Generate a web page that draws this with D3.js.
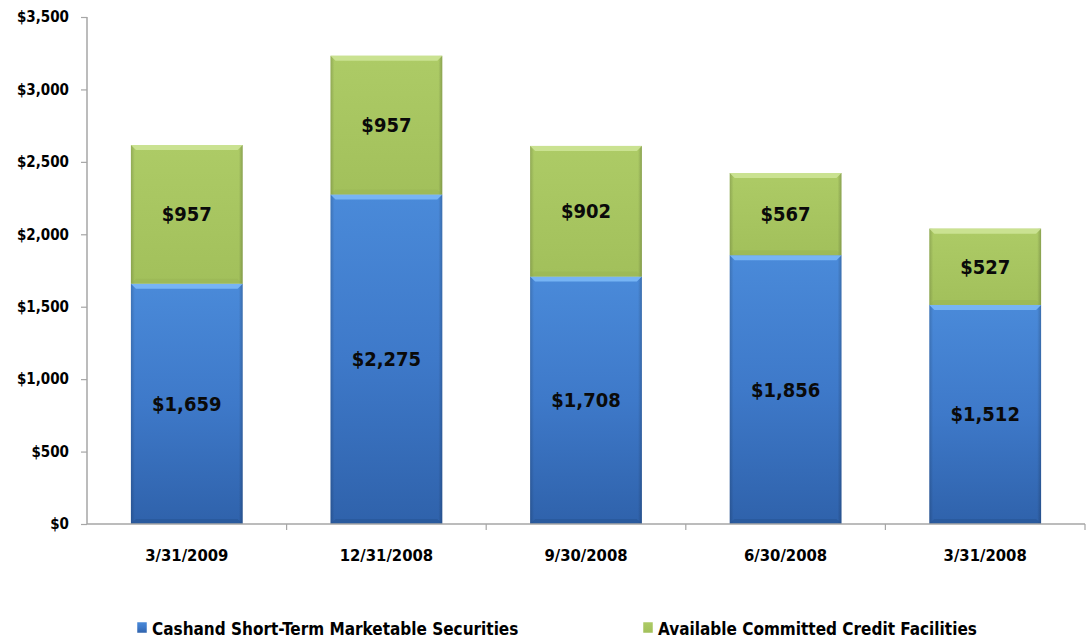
<!DOCTYPE html>
<html>
<head>
<meta charset="utf-8">
<script src="https://cdn.jsdelivr.net/npm/d3@7"></script>
<style>
  html, body { margin: 0; padding: 0; background: #fff; }
  svg { display: block; }
  text { font-family: "DejaVu Sans Condensed", "DejaVu Sans", sans-serif; font-weight: bold; fill: #000; }
</style>
</head>
<body>
<svg id="chart" width="1090" height="644"></svg>
<script>
// Liquidity by quarter end ($ millions)
const categories = ["3/31/2009", "12/31/2008", "9/30/2008", "6/30/2008", "3/31/2008"];
const cashValues = [1659, 2275, 1708, 1856, 1512];
const creditValues = [957, 957, 902, 567, 527];
const seriesNames = ["Cashand Short-Term  Marketable Securities", "Available Committed Credit Facilities"];
const yTicks = [0, 500, 1000, 1500, 2000, 2500, 3000, 3500];

const svg = d3.select("#chart");
const plotLeft = 87, plotRight = 1085, plotTop = 17, plotBottom = 524;

const x = d3.scaleBand().domain(categories).range([plotLeft, plotRight]).paddingInner(0.44).paddingOuter(0.22);
const y = d3.scaleLinear().domain([0, 3500]).range([plotBottom, plotTop]);
const fmt = v => "$" + d3.format(",")(v);

// gradients for the bevelled bars
const defs = svg.append("defs");
function vGrad(id, stops) {
  const g = defs.append("linearGradient").attr("id", id).attr("x1", 0).attr("y1", 0).attr("x2", 0).attr("y2", 1);
  stops.forEach(s => g.append("stop").attr("offset", s[0]).attr("stop-color", s[1]));
}
function hGrad(id, stops) {
  const g = defs.append("linearGradient").attr("id", id).attr("x1", 0).attr("y1", 0).attr("x2", 1).attr("y2", 0);
  stops.forEach(s => g.append("stop").attr("offset", s[0]).attr("stop-color", s[1]).attr("stop-opacity", s[2]));
}
vGrad("blueFill", [[0, "#4a8ad9"], [0.5, "#3e79c9"], [1, "#2f62ab"]]);
vGrad("greenFill", [[0, "#adcb66"], [1, "#a2c05b"]]);
hGrad("edgeShade", [[0, "#000", 0.16], [0.035, "#000", 0.0], [0.965, "#000", 0.0], [1, "#000", 0.2]]);

// y axis
const yAxis = d3.axisLeft(y).tickValues(yTicks).tickFormat(fmt).tickSize(6).tickPadding(12);
const gy = svg.append("g").attr("transform", `translate(${plotLeft},0)`).call(yAxis);
gy.select(".domain").attr("stroke", "#a6a6a6").attr("stroke-width", 1.5).attr("d", `M0,${plotTop}V${plotBottom}`);
gy.selectAll(".tick line").attr("stroke", "#a6a6a6").attr("stroke-width", 1.2);
gy.selectAll(".tick text").style("font-size", "15px").style("fill", "#000").attr("font-family", null);

// bar segments
const stacks = categories.map((c, i) => ({
  cat: c,
  segs: [
    { key: "cash", v0: 0, v1: cashValues[i], val: cashValues[i] },
    { key: "credit", v0: cashValues[i], v1: cashValues[i] + creditValues[i], val: creditValues[i] }
  ]
}));

const barG = svg.append("g");
stacks.forEach(s => {
  s.segs.forEach(seg => {
    const x0 = x(s.cat), bw = x.bandwidth();
    const y0 = y(seg.v1), h = y(seg.v0) - y(seg.v1);
    const g = barG.append("g");
    const isCash = seg.key === "cash";
    g.append("rect").attr("x", x0).attr("y", y0).attr("width", bw).attr("height", h)
      .attr("fill", isCash ? "url(#blueFill)" : "url(#greenFill)");
    g.append("rect").attr("x", x0).attr("y", y0).attr("width", bw).attr("height", h)
      .attr("fill", "url(#edgeShade)");
    // top bevel
    const b = 5;
    g.append("path")
      .attr("d", `M${x0},${y0}H${x0 + bw}L${x0 + bw - b},${y0 + b}H${x0 + b}Z`)
      .attr("fill", isCash ? "#79b6f6" : "#cbe393").attr("opacity", 0.95);
    // bottom bevel
    g.append("path")
      .attr("d", `M${x0},${y0 + h}H${x0 + bw}L${x0 + bw - b},${y0 + h - b}H${x0 + b}Z`)
      .attr("fill", isCash ? "#24528f" : "#93ad50").attr("opacity", isCash ? 0.5 : 0.3);
    // value label
    g.append("text")
      .attr("x", x0 + bw / 2)
      .attr("y", y0 + h / 2 + 7)
      .attr("text-anchor", "middle")
      .style("font-size", "20px")
      .style("fill", "#0a0a0a")
      .text(fmt(seg.val));
  });
});

// x axis
const xAxis = d3.axisBottom(x).tickSize(0).tickPadding(25);
const gx = svg.append("g").attr("transform", `translate(0,${plotBottom})`).call(xAxis);
gx.select(".domain").attr("stroke", "#a6a6a6").attr("stroke-width", 1.5).attr("d", `M${plotLeft},0H${plotRight}`);
gx.selectAll(".tick text").style("font-size", "16.5px").style("fill", "#000").attr("font-family", null);
// category separators
const bounds = categories.map(c => x(c) + x.bandwidth() + x.step() * 0.22);
gx.selectAll(".sep").data(bounds).join("line")
  .attr("x1", d => d).attr("x2", d => d).attr("y1", 0).attr("y2", 6)
  .attr("stroke", "#a6a6a6").attr("stroke-width", 1.2);

// legend
const legend = [
  { name: seriesNames[0], fill: "url(#blueFill)", x: 137 },
  { name: seriesNames[1], fill: "url(#greenFill)", x: 643 }
];
const lg = svg.append("g");
legend.forEach(l => {
  lg.append("rect").attr("x", l.x).attr("y", 622).attr("width", 10).attr("height", 11)
    .attr("fill", l.fill).attr("stroke", "#fff").attr("stroke-width", 0.5);
  lg.append("text").attr("x", l.x + 15).attr("y", 635).style("font-size", "17px").text(l.name);
});
</script>
</body>
</html>
